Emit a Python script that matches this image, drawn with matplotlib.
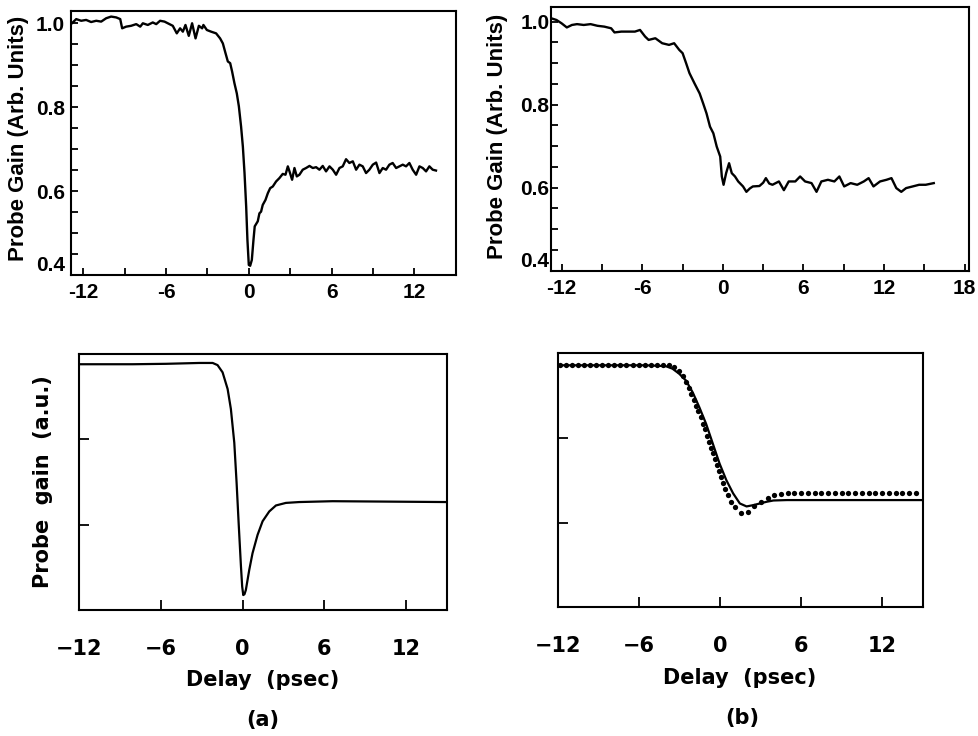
import matplotlib
matplotlib.use('Agg')
import matplotlib.pyplot as plt
from matplotlib.ticker import FixedLocator, MultipleLocator

# ---- (a) measured probe gain vs delay (ps) ----
meas_a_delay = [-12.95, -12.51, -12.15, -11.79, -11.43, -11.06, -10.70, -10.34, -9.98, -9.61,
                -9.32, -9.18, -8.89, -8.53, -8.16, -7.87, -7.68, -7.32, -6.96, -6.71,
                -6.43, -6.11, -5.75, -5.51, -5.22, -4.98, -4.78, -4.59, -4.35, -4.11,
                -3.86, -3.62, -3.38, -3.29, -3.04, -2.73, -2.37, -2.08, -1.88, -1.69,
                -1.52, -1.35, -1.21, -1.04, -0.87, -0.72, -0.56, -0.43, -0.31, -0.19,
                -0.10, 0.00, 0.10, 0.22, 0.34, 0.43, 0.65, 0.77, 0.89, 1.01,
                1.21, 1.38, 1.55, 1.74, 1.98, 2.22, 2.46, 2.66, 2.83, 2.95,
                3.14, 3.31, 3.48, 3.67, 3.91, 4.15, 4.40, 4.64, 4.88, 5.12,
                5.36, 5.60, 5.85, 6.09, 6.33, 6.57, 6.81, 7.05, 7.29, 7.54,
                7.78, 8.02, 8.26, 8.50, 8.74, 8.99, 9.23, 9.47, 9.71, 9.95,
                10.19, 10.43, 10.68, 10.92, 11.16, 11.40, 11.64, 11.88, 12.13, 12.37,
                12.61, 12.85, 13.09, 13.33, 13.57]
meas_a_gain = [0.996, 1.010, 1.006, 1.008, 1.003, 1.006, 1.004, 1.012, 1.016, 1.014,
               1.010, 0.988, 0.992, 0.994, 0.998, 0.992, 1.000, 0.996, 1.002, 0.998,
               1.006, 1.004, 0.998, 0.994, 0.976, 0.988, 0.980, 0.996, 0.970, 1.000,
               0.964, 0.994, 0.988, 0.996, 0.984, 0.980, 0.976, 0.964, 0.952, 0.929,
               0.909, 0.905, 0.885, 0.857, 0.833, 0.802, 0.754, 0.706, 0.643, 0.563,
               0.484, 0.424, 0.422, 0.436, 0.484, 0.516, 0.528, 0.547, 0.551, 0.567,
               0.579, 0.595, 0.607, 0.611, 0.623, 0.631, 0.641, 0.639, 0.659, 0.647,
               0.627, 0.655, 0.635, 0.639, 0.651, 0.655, 0.660, 0.655, 0.657, 0.651,
               0.660, 0.647, 0.659, 0.651, 0.639, 0.655, 0.659, 0.676, 0.667, 0.671,
               0.651, 0.663, 0.659, 0.643, 0.651, 0.663, 0.668, 0.643, 0.655, 0.651,
               0.663, 0.667, 0.655, 0.659, 0.663, 0.659, 0.667, 0.651, 0.639, 0.659,
               0.655, 0.647, 0.659, 0.651, 0.649]

# ---- (b) measured probe gain vs delay (ps) ----
meas_b_delay = [-12.77, -12.39, -12.01, -11.62, -11.24, -10.86, -10.36, -9.85, -9.34, -8.83,
                -8.32, -8.07, -7.56, -7.06, -6.55, -6.17, -5.79, -5.53, -5.03, -4.52,
                -4.01, -3.63, -3.25, -3.00, -2.74, -2.49, -2.11, -1.73, -1.47, -1.22,
                -0.96, -0.71, -0.46, -0.20, -0.08, 0.05, 0.24, 0.46, 0.66, 0.90,
                1.14, 1.50, 1.75, 2.00, 2.23, 2.72, 3.00, 3.20, 3.45, 3.69,
                4.17, 4.54, 4.90, 5.39, 5.75, 6.12, 6.60, 6.97, 7.33, 7.82,
                8.30, 8.67, 9.03, 9.51, 10.00, 10.49, 10.85, 11.21, 11.70, 12.18,
                12.55, 12.91, 13.28, 13.64, 14.13, 14.61, 15.10, 15.70]
meas_b_gain = [1.008, 1.004, 0.996, 0.986, 0.992, 0.994, 0.992, 0.994, 0.990, 0.988,
               0.984, 0.974, 0.976, 0.976, 0.976, 0.980, 0.964, 0.956, 0.960, 0.948,
               0.944, 0.948, 0.932, 0.924, 0.900, 0.876, 0.851, 0.827, 0.803, 0.779,
               0.747, 0.731, 0.699, 0.675, 0.627, 0.607, 0.635, 0.659, 0.635, 0.627,
               0.615, 0.603, 0.590, 0.598, 0.603, 0.604, 0.612, 0.623, 0.610, 0.607,
               0.615, 0.594, 0.615, 0.615, 0.627, 0.615, 0.611, 0.590, 0.615, 0.619,
               0.615, 0.627, 0.603, 0.611, 0.607, 0.615, 0.623, 0.603, 0.615, 0.619,
               0.623, 0.599, 0.590, 0.599, 0.603, 0.607, 0.607, 0.611]

# ---- (a) model ----
model_a_delay = [-12.0, -8.08, -5.63, -3.18, -2.20, -1.84, -1.47, -1.10, -0.86, -0.61,
                 -0.44, -0.29, -0.12, -0.03, 0.05, 0.14, 0.24, 0.49, 0.73, 1.10,
                 1.47, 1.96, 2.45, 3.18, 4.16, 6.61, 15.0]
model_a_gain = [0.976, 0.976, 0.977, 0.979, 0.979, 0.974, 0.957, 0.918, 0.871, 0.792,
                0.698, 0.604, 0.502, 0.455, 0.435, 0.437, 0.447, 0.494, 0.533, 0.576,
                0.608, 0.631, 0.645, 0.651, 0.653, 0.655, 0.653]

# ---- (b) model (solid) and fit (dots) ----
model_b_delay = [-12.0, -5.54, -4.04, -3.54, -3.04, -2.54, -2.04, -1.55, -1.05, -0.55,
                 -0.05, 0.45, 0.95, 1.45, 1.95, 2.44, 2.94, 3.44, 3.94, 4.94, 15.0]
model_b_gain = [0.971, 0.971, 0.969, 0.963, 0.951, 0.935, 0.907, 0.872, 0.833, 0.786,
                0.739, 0.700, 0.669, 0.645, 0.638, 0.641, 0.645, 0.649, 0.652, 0.653, 0.653]

dots_b_delay = [-11.9, -11.45, -11.0, -10.55, -10.1, -9.65, -9.2, -8.75, -8.3, -7.85,
                -7.4, -6.95, -6.5, -6.05, -5.6, -5.15, -4.7, -4.25, -3.8, -3.42,
                -3.04, -2.79, -2.54, -2.34, -2.14, -1.97, -1.80, -1.62, -1.45, -1.27,
                -1.12, -0.97, -0.82, -0.67, -0.55, -0.40, -0.25, -0.10, 0.05, 0.20,
                0.37, 0.57, 0.82, 1.12, 1.57, 2.07, 2.52, 3.02, 3.52, 4.01,
                4.51, 5.0, 5.5, 6.0, 6.5, 7.0, 7.5, 8.0, 8.5, 9.0,
                9.5, 10.0, 10.5, 11.0, 11.5, 12.0, 12.5, 13.0, 13.5, 14.0, 14.5]
dots_b_gain = [0.971] * 19 + [0.967,
               0.958, 0.945, 0.932, 0.918, 0.904, 0.890, 0.876, 0.862, 0.848, 0.833,
               0.820, 0.805, 0.791, 0.777, 0.763, 0.749, 0.735, 0.721, 0.707, 0.693,
               0.678, 0.664, 0.649, 0.636, 0.622, 0.624, 0.638, 0.649, 0.658, 0.664,
               0.667] + [0.669] * 20

top_ticks = [-12, -6, 0, 6, 12]
top_ticks_b = [-12, -6, 0, 6, 12, 18]
gain_ticks = [0.4, 0.6, 0.8, 1.0]
bottom_ticks = [-12, -6, 0, 6, 12]

W, H = 979, 736
def box(l, t, r, b):
    return [l / W, 1 - b / H, (r - l) / W, (b - t) / H]

fig = plt.figure(figsize=(W / 100, H / 100), dpi=100)
bold = dict(family='Liberation Sans', weight='bold')
rnd = dict(family='DejaVu Sans', weight='bold')

def top_panel(ax, x, y, xlim, ylim, xt, ypad):
    ax.plot(x, y, color='black', lw=1.7)
    ax.set_xlim(*xlim)
    ax.set_ylim(*ylim)
    ax.xaxis.set_major_locator(FixedLocator(xt))
    ax.xaxis.set_minor_locator(MultipleLocator(3))
    ax.set_xticklabels([str(v) for v in xt], fontsize=15, **bold)
    ax.yaxis.set_major_locator(FixedLocator(gain_ticks))
    ax.yaxis.set_minor_locator(MultipleLocator(0.05))
    ax.set_yticklabels(['%.1f' % v for v in gain_ticks], fontsize=15, **bold)
    ax.tick_params(which='both', direction='in', length=5, width=1.3)
    ax.tick_params(axis='x', pad=6)
    ax.tick_params(axis='y', pad=ypad)
    ax.get_yticklabels()[0].set_va('bottom')
    for s in ax.spines.values():
        s.set_linewidth(1.5)

ax1 = fig.add_axes(box(70.7, 10.7, 456, 275))
top_panel(ax1, meas_a_delay, meas_a_gain, (-12.91, 15.02), (0.4, 1.030), top_ticks, 4)
ax2 = fig.add_axes(box(550.7, 6.7, 968.7, 270.7))
top_panel(ax2, meas_b_delay, meas_b_gain, (-12.82, 18.3), (0.4, 1.036), top_ticks_b, 1)

fig.text(19 / W, 1 - 138 / H, 'Probe Gain (Arb. Units)', rotation=90,
         ha='center', va='center', fontsize=16, **bold)
fig.text(498 / W, 1 - 136 / H, 'Probe Gain (Arb. Units)', rotation=90,
         ha='center', va='center', fontsize=16, **bold)

def bottom_panel(ax):
    ax.set_xlim(-12, 15)
    ax.set_ylim(0.4, 1.0)
    ax.xaxis.set_major_locator(FixedLocator(bottom_ticks))
    ax.set_xticklabels([str(v).replace('-', '\u2212') for v in bottom_ticks], fontsize=15, **rnd)
    ax.yaxis.set_major_locator(FixedLocator([0.6, 0.8]))
    ax.set_yticklabels([])
    ax.tick_params(direction='in', length=7, width=1.3)
    ax.tick_params(axis='x', pad=21)
    for s in ax.spines.values():
        s.set_linewidth(1.5)

ax3 = fig.add_axes(box(79.3, 354, 446.7, 610))
ax3.plot(model_a_delay, model_a_gain, color='black', lw=1.6)
bottom_panel(ax3)
ax4 = fig.add_axes(box(558.3, 353, 922.7, 607.3))
ax4.plot(model_b_delay, model_b_gain, color='black', lw=1.6)
ax4.plot(dots_b_delay, dots_b_gain, 'o', color='black', ms=3.8, mew=0)
bottom_panel(ax4)

fig.text(43 / W, 1 - 482 / H, 'Probe  gain  (a.u.)', rotation=90,
         ha='center', va='center', fontsize=15, **rnd)
fig.text(263 / W, 1 - 680 / H, 'Delay  (psec)', ha='center', va='center', fontsize=15, **rnd)
fig.text(740 / W, 1 - 678 / H, 'Delay  (psec)', ha='center', va='center', fontsize=15, **rnd)
fig.text(263 / W, 1 - 720 / H, '(a)', ha='center', va='center', fontsize=15, **rnd)
fig.text(742 / W, 1 - 718 / H, '(b)', ha='center', va='center', fontsize=15, **rnd)

fig.savefig('out.png', dpi=100)
